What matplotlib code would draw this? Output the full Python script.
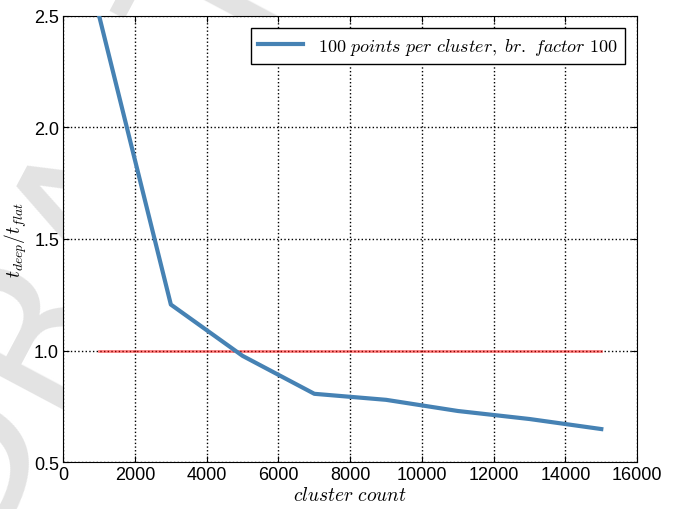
import matplotlib
matplotlib.use("Agg")
import matplotlib.pyplot as plt

# data
cluster_counts = [1000, 3000, 5000, 7000, 9000, 11000, 13000, 15000]
time_ratio = [2.50, 1.206, 0.976, 0.806, 0.779, 0.729, 0.693, 0.648]
baseline_x = [1000, 15000]
baseline_y = [1.0, 1.0]

x_ticks = list(range(0, 16001, 2000))
y_ticks = [0.5, 1.0, 1.5, 2.0, 2.5]

plt.rcParams["font.family"] = ["Liberation Sans", "DejaVu Sans"]
plt.rcParams["mathtext.fontset"] = "cm"

fig = plt.figure(figsize=(6.8, 5.1), dpi=100)

# faint watermark behind the (opaque) axes
fig.text(0.12, 0.56, "DRAFT", fontsize=150, color="#e3e3e3", rotation=62,
         ha="center", va="center", zorder=0, fontfamily="DejaVu Sans")

ax = fig.add_axes([0.093, 0.092, 0.844, 0.875])
ax.set_zorder(1)

ax.plot(cluster_counts, time_ratio, color="#4682b4", linewidth=3,
        label=r"$100\ points\ per\ cluster,\ br.\ factor\ 100$", zorder=3)
ax.plot(baseline_x, baseline_y, color="red", alpha=0.5, linewidth=2, zorder=2)

ax.set_xlim(0, 16000)
ax.set_ylim(0.5, 2.5)
ax.set_xticks(x_ticks)
ax.set_yticks(y_ticks)
ax.tick_params(direction="in", top=True, right=True, labelsize=13, length=4,
               pad=3)
ax.grid(True, linestyle=":", color="black", linewidth=1)

ax.set_xlabel(r"$cluster\ count$", fontsize=14, labelpad=2)
ax.set_ylabel(r"$t_{deep}/t_{flat}$", fontsize=14, labelpad=4)

leg = ax.legend(loc="upper right", fontsize=13, fancybox=False,
                framealpha=1, edgecolor="black", handlelength=2.5,
                borderaxespad=0.7)
leg.get_frame().set_linewidth(1)

fig.savefig("out.png", dpi=100)
